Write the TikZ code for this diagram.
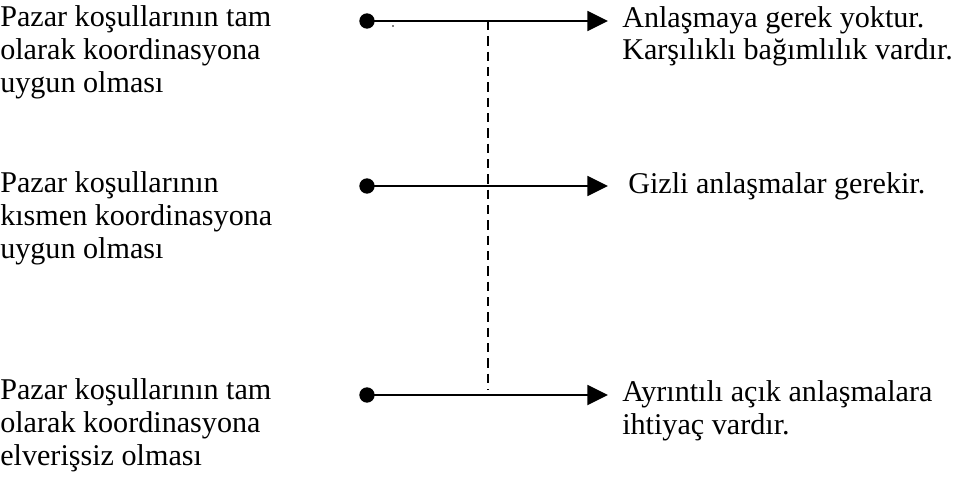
\documentclass[tikz,border=0pt]{standalone}
\usepackage{fontspec}
\setmainfont{Liberation Serif}
\usetikzlibrary{arrows.meta}
\begin{document}
\begin{tikzpicture}[x=0.75pt,y=-0.75pt,
  txt/.style={anchor=base west,inner sep=0pt,align=left,
    font=\fontsize{22.6pt}{24.4pt}\selectfont},
  dotnode/.style={circle,fill=black,inner sep=0pt,minimum size=11.5pt},
  flow/.style={line width=1.4pt,-{Triangle[length=15.5pt,width=15pt]}},
  guide/.style={line width=1.5pt,dash pattern=on 7pt off 4.5pt}]
\useasboundingbox (0,0) rectangle (962,478);

% left: market conditions (positions are last-line baselines)
\node[txt] (c1) at (0,92) {Pazar koşullarının tam\\olarak koordinasyona\\uygun olması};
\node[txt] (c2) at (0,258) {Pazar koşullarının\\kısmen koordinasyona\\uygun olması};
\node[txt] (c3) at (0,465) {Pazar koşullarının tam\\olarak koordinasyona\\elverişsiz olması};

% right: resulting type of agreement
\node[txt] (r1) at (622,60) {Anlaşmaya gerek yoktur.\\Karşılıklı bağımlılık vardır.};
\node[txt] (r2) at (628,193) {Gizli anlaşmalar gerekir.};
\node[txt] (r3) at (622,434) {Ayrıntılı açık anlaşmalara\\ihtiyaç vardır.};

% start dots and arrow ends
\node[dotnode] (d1) at (367,21) {};
\node[dotnode] (d2) at (367,186) {};
\node[dotnode] (d3) at (367,395) {};
\coordinate (e1) at (608,21);
\coordinate (e2) at (608,186);
\coordinate (e3) at (608,395);

\draw[flow] (d1.center) -- (e1);
\draw[flow] (d2.center) -- (e2);
\draw[flow] (d3.center) -- (e3);

% small speck under the first line
\fill (393,26) circle (0.8);

% dashed guide between the rows
\coordinate (gt) at (488,21);
\coordinate (gb) at (488,390);
\draw[guide] (gt) -- (gb);
\end{tikzpicture}
\end{document}
